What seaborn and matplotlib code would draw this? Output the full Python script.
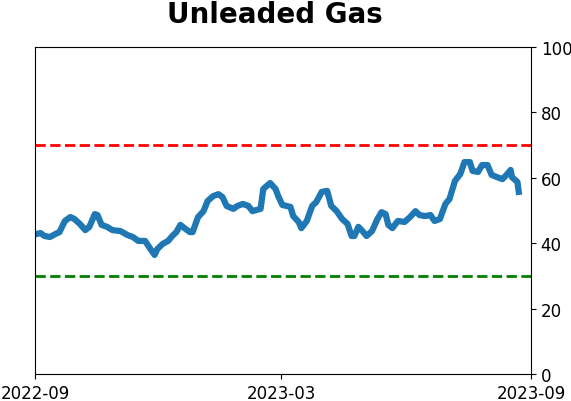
import pandas as pd
import matplotlib
matplotlib.use("Agg")
import matplotlib.pyplot as plt
import seaborn as sns

dates = [
    "2022-09-02", "2022-09-05", "2022-09-08", "2022-09-12", "2022-09-16", "2022-09-19",
    "2022-09-23", "2022-09-27", "2022-09-30", "2022-10-04", "2022-10-08", "2022-10-11",
    "2022-10-15", "2022-10-17", "2022-10-20", "2022-10-24", "2022-10-28", "2022-11-03",
    "2022-11-08", "2022-11-12", "2022-11-16", "2022-11-21", "2022-11-25", "2022-11-28",
    "2022-11-30", "2022-12-04", "2022-12-08", "2022-12-11", "2022-12-14", "2022-12-17",
    "2022-12-20", "2022-12-24", "2022-12-26", "2022-12-30", "2023-01-03", "2023-01-06",
    "2023-01-10", "2023-01-14", "2023-01-17", "2023-01-20", "2023-01-25", "2023-01-28",
    "2023-02-01", "2023-02-05", "2023-02-08", "2023-02-14", "2023-02-16", "2023-02-21",
    "2023-02-25", "2023-02-27", "2023-03-02", "2023-03-08", "2023-03-10", "2023-03-14",
    "2023-03-16", "2023-03-20", "2023-03-24", "2023-03-27", "2023-03-31", "2023-04-04",
    "2023-04-07", "2023-04-11", "2023-04-15", "2023-04-19", "2023-04-22", "2023-04-24",
    "2023-04-27", "2023-04-30", "2023-05-03", "2023-05-07", "2023-05-11", "2023-05-14",
    "2023-05-17", "2023-05-19", "2023-05-22", "2023-05-26", "2023-05-31", "2023-06-04",
    "2023-06-08", "2023-06-11", "2023-06-15", "2023-06-19", "2023-06-22", "2023-06-26",
    "2023-06-30", "2023-07-03", "2023-07-07", "2023-07-11", "2023-07-14", "2023-07-18",
    "2023-07-20", "2023-07-24", "2023-07-27", "2023-07-31", "2023-08-03", "2023-08-07",
    "2023-08-11", "2023-08-14", "2023-08-17", "2023-08-18", "2023-08-22", "2023-08-23",
]
values = [
    42.8, 43.1, 42.2, 41.9, 42.8, 43.4,
    46.8, 48.0, 47.4, 45.9, 44.0, 45.0,
    48.9, 48.6, 45.6, 45.0, 44.0, 43.7,
    42.5, 41.9, 40.7, 40.7, 38.2, 36.4,
    38.2, 39.8, 40.7, 42.2, 43.4, 45.6,
    44.6, 43.4, 43.4, 48.0, 49.8, 52.9,
    54.4, 55.0, 54.1, 51.4, 50.5, 51.4,
    52.0, 51.4, 49.8, 50.5, 56.6, 58.4,
    56.6, 54.4, 51.7, 51.1, 48.3, 46.5,
    44.6, 46.8, 51.4, 52.6, 55.7, 56.0,
    51.4, 49.8, 47.4, 45.9, 42.2, 42.2,
    45.0, 43.7, 42.2, 43.7, 47.4, 49.5,
    48.9, 45.6, 44.6, 46.8, 46.5, 48.0,
    49.8, 48.6, 48.3, 48.6, 46.8, 47.4,
    52.0, 53.5, 59.0, 61.2, 64.8, 64.8,
    62.1, 61.8, 63.9, 63.9, 60.9, 60.2,
    59.6, 60.9, 62.4, 60.2, 58.7, 55.7,
]
upper_level = 70
lower_level = 30
tick_dates = ["2022-09-01", "2023-03-01", "2023-09-01"]
tick_labels = ["2022-09", "2023-03", "2023-09"]

df = pd.DataFrame({"date": pd.to_datetime(dates), "value": values})

fig = plt.figure(figsize=(5.71, 4.02), dpi=100)
ax = fig.add_axes([35 / 571, 1 - 375 / 402, 496 / 571, 327 / 402])

sns.lineplot(data=df, x="date", y="value", ax=ax, color="#1f77b4", linewidth=4.5)
ax.axhline(upper_level, color="red", linestyle="--", linewidth=2)
ax.axhline(lower_level, color="green", linestyle="--", linewidth=2)

ax.set_xlim(pd.Timestamp(tick_dates[0]), pd.Timestamp(tick_dates[-1]))
ax.set_xticks(pd.to_datetime(tick_dates))
ax.set_xticklabels(tick_labels)
ax.set_ylim(0, 100)
ax.set_yticks([0, 20, 40, 60, 80, 100])
ax.yaxis.tick_right()
ax.tick_params(labelsize=12)
ax.set_xlabel("")
ax.set_ylabel("")
# title sits a little left of the axes centre in the original
ax.set_title("Unleaded Gas", fontsize=20, fontweight="bold", pad=18, x=0.483)

fig.savefig("out.png", dpi=100)
